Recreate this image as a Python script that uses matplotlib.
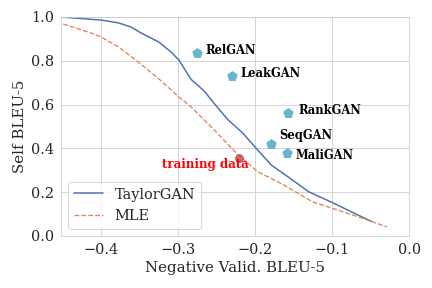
import numpy as np
import matplotlib.pyplot as plt
import seaborn as sns

# TaylorGAN curve (negative valid BLEU-5 vs self BLEU-5)
taylor_x = [-0.452, -0.400, -0.377, -0.361, -0.348, -0.325, -0.309, -0.299, -0.283,
            -0.266, -0.253, -0.235, -0.216, -0.199, -0.179, -0.157, -0.130, -0.099, -0.049]
taylor_y = [1.000, 0.986, 0.973, 0.954, 0.927, 0.886, 0.840, 0.804, 0.715,
            0.662, 0.605, 0.530, 0.470, 0.402, 0.324, 0.269, 0.201, 0.151, 0.066]

# MLE curve
mle_x = [-0.449, -0.413, -0.400, -0.377, -0.352, -0.326, -0.299, -0.283, -0.253,
         -0.222, -0.196, -0.164, -0.125, -0.097, -0.062, -0.029]
mle_y = [0.968, 0.927, 0.909, 0.863, 0.795, 0.721, 0.635, 0.589, 0.484,
         0.370, 0.292, 0.235, 0.155, 0.123, 0.082, 0.041]

# other GAN models
gan_names = ['RelGAN', 'LeakGAN', 'RankGAN', 'SeqGAN', 'MaliGAN']
gan_x = [-0.275, -0.230, -0.157, -0.179, -0.158]
gan_y = [0.836, 0.731, 0.562, 0.420, 0.379]
label_dx = [0.010, 0.011, 0.013, 0.010, 0.010]
label_dy = [0.012, 0.013, 0.013, 0.037, -0.010]

train_x, train_y = -0.221, 0.356

sns.set_style('whitegrid')
plt.rcParams['font.family'] = ['DejaVu Serif']

fig = plt.figure(figsize=(6, 4), dpi=72)
ax = fig.add_axes([0.141, 0.181, 0.806, 0.760])

ax.plot(taylor_x, taylor_y, color='#4c72b0', lw=1.5, label='TaylorGAN')
ax.plot(mle_x, mle_y, color='#dd8452', lw=1.3, ls='--', label='MLE')

ax.scatter(gan_x, gan_y, marker='p', s=95, color='#64b5cd', zorder=3)
for name, x, y, dx, dy in zip(gan_names, gan_x, gan_y, label_dx, label_dy):
    ax.text(x + dx, y + dy, name, fontsize=11.5, fontweight='bold',
            color='black', va='center')

ax.scatter([train_x], [train_y], marker='o', s=60, color='#c44e52', alpha=0.85, zorder=3)
ax.text(-0.208, 0.328, 'training data', color='red', fontsize=11.8,
        fontweight='bold', ha='right', va='center')

ax.set_xlim(-0.452, 0.0)
ax.set_ylim(0.0, 1.0)
ax.set_xticks([-0.4, -0.3, -0.2, -0.1, 0.0])
ax.set_yticks([0.0, 0.2, 0.4, 0.6, 0.8, 1.0])
ax.tick_params(labelsize=14.5, colors='#262626')
ax.set_xlabel('Negative Valid. BLEU-5', fontsize=15, color='#262626')
ax.set_ylabel('Self BLEU-5', fontsize=15, color='#262626')

ax.legend(loc='lower left', fontsize=14.5, frameon=True)

fig.savefig('out.png', dpi=72)
